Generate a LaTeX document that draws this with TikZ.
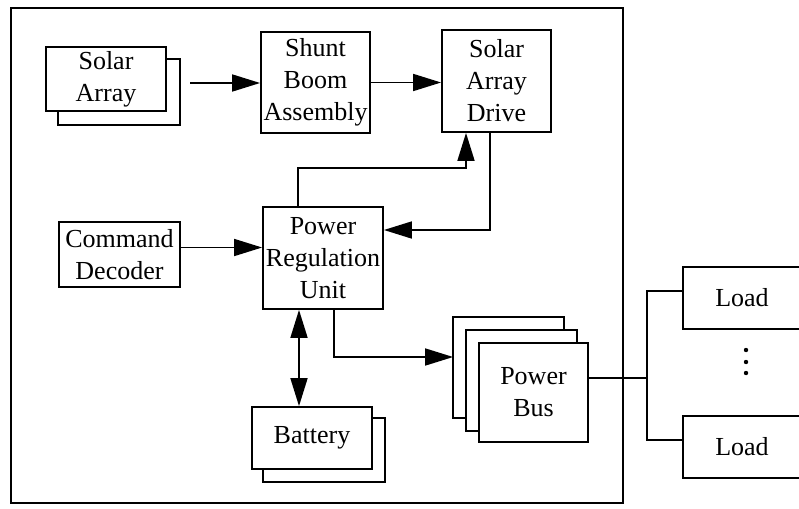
\documentclass[tikz,border=0pt]{standalone}
\usepackage{fontspec}
\setmainfont{Liberation Serif}
\usetikzlibrary{arrows.meta,backgrounds,calc}
\begin{document}
\begin{tikzpicture}[x=1pt,y=-1pt,
  blk/.style={draw,line width=1.8pt,fill=white,inner sep=0pt,align=center,
    font=\fontsize{26}{32}\selectfont},
  backbox/.style={draw,line width=1.8pt,fill=white},
  conn/.style={line width=1.7pt},
  arr/.style={conn,-{Triangle[length=28pt,width=17pt]}},
  arrtwo/.style={conn,{Triangle[length=28pt,width=17pt]}-{Triangle[length=28pt,width=17pt]}}]
\useasboundingbox (0,0) rectangle (799,508);
\clip (0,0) rectangle (799,508);
% outer frame
\draw[line width=1.8pt] (11,8) rectangle (623,503);
% nodes
\node[blk,minimum width=120pt,minimum height=64pt] (sa) at (106,79) {Solar\\Array};
\node[blk,minimum width=109pt,minimum height=101pt] (sba) at (315.5,82.5) {Shunt\\Boom\\Assembly};
\node[blk,minimum width=109pt,minimum height=102pt] (sad) at (496.5,81) {Solar\\Array\\Drive};
\node[blk,minimum width=121pt,minimum height=65pt] (cd) at (119.5,254.5) {Command\\Decoder};
\node[blk,minimum width=120pt,minimum height=102pt] (pru) at (323,258) {Power\\Regulation\\Unit};
\node[blk,minimum width=120pt,minimum height=62pt] (bat) at (312,438) {Battery};
\node[blk,minimum width=109pt,minimum height=99pt] (pb) at (533.5,392.5) {Power\\Bus};
\node[blk,minimum width=118pt,minimum height=62pt] (load1) at (742,298) {Load};
\node[blk,minimum width=118pt,minimum height=62pt] (load2) at (742,447) {Load};
% stacked copies
\begin{scope}[on background layer]
  \draw[backbox] ([shift={(13pt,-13pt)}]sa.north west) rectangle ([shift={(13pt,-13pt)}]sa.south east);
  \draw[backbox] ([shift={(12pt,-12pt)}]bat.north west) rectangle ([shift={(12pt,-12pt)}]bat.south east);
  \draw[backbox] ([shift={(-25pt,25pt)}]pb.north west) rectangle ([shift={(-25pt,25pt)}]pb.south east);
  \draw[backbox] ([shift={(-12pt,12pt)}]pb.north west) rectangle ([shift={(-12pt,12pt)}]pb.south east);
\end{scope}
% connectors
\coordinate (s0) at (190,83);
\draw[arr] (s0) -- (s0 -| sba.west);
\draw[arr] (sba.east) -- (sba.east -| sad.west);
\coordinate (k1) at (466,168);
\draw[arr] ([xshift=-25pt]pru.north) |- (k1) -- (k1 |- sad.south);
\draw[arr] ([xshift=-6.5pt]sad.south) |- ([yshift=28pt]pru.east);
\draw[arr] ([yshift=7pt]cd.east) -- ([yshift=7pt]cd.east -| pru.west);
\draw[arrtwo] ([xshift=-24pt]pru.south) -- ([xshift=-24pt]pru.south |- bat.north);
\draw[arr] ([xshift=11pt]pru.south) |- ([shift={(-25pt,35.5pt)}]pb.west);
\coordinate (j) at (647,378);
\draw[conn] ([yshift=14.5pt]pb.east) -- (j);
\draw[conn] ([yshift=7pt]load1.west) -| (j);
\draw[conn] ([yshift=7pt]load2.west) -| (j);
% dots
\foreach \yy in {350,362,373} \fill (746,\yy) circle (2.2pt);
\end{tikzpicture}
\end{document}
